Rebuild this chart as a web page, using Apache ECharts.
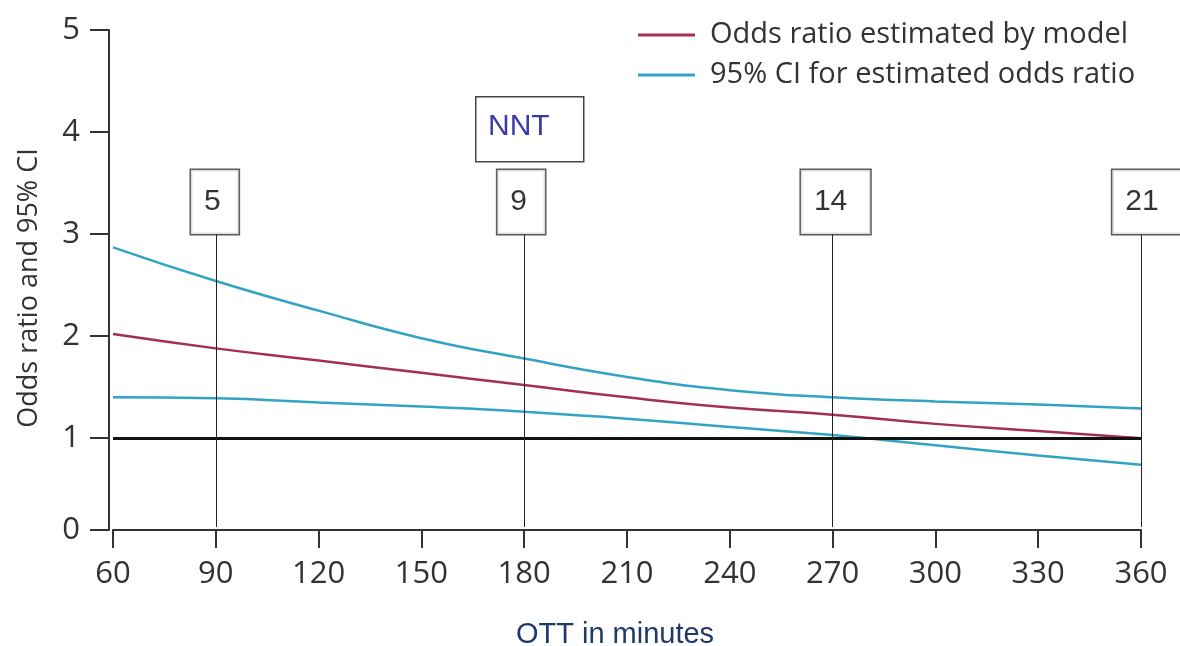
<!DOCTYPE html>
<html>
<head>
<meta charset="utf-8">
<script src="https://cdn.jsdelivr.net/npm/echarts@6/dist/echarts.min.js"></script>
<style>
html,body{margin:0;padding:0;background:#fff;}
#chart{width:1180px;height:646px;}
</style>
</head>
<body>
<div id="chart"></div>
<script>
// ---- data ----
const ottMinutes = [60, 90, 120, 150, 180, 210, 240, 270, 300, 330, 360];
const oddsRatio  = [2.02, 1.88, 1.76, 1.64, 1.52, 1.40, 1.30, 1.23, 1.14, 1.07, 1.00];
const ciUpper    = [2.87, 2.54, 2.25, 1.98, 1.78, 1.60, 1.47, 1.40, 1.36, 1.33, 1.29];
const ciLower    = [1.40, 1.39, 1.35, 1.31, 1.26, 1.19, 1.11, 1.03, 0.93, 0.83, 0.74];
const nntMinutes = [90, 180, 270, 360];
const nntValues  = [5, 9, 14, 21];
const yTickValues = [0.1, 1, 2, 3, 4, 5];
const yTickLabels = ['0', '1', '2', '3', '4', '5'];
const seriesNames = ['Odds ratio estimated by model', '95% CI for estimated odds ratio'];

const RED = '#a32f58';
const CYAN = '#33a3c4';
const LABEL_FONT = '"Open Sans", "DejaVu Sans", sans-serif';
const ARIAL = 'Arial, "Liberation Sans", sans-serif';

const pairs = arr => ottMinutes.map((x, i) => [x, arr[i]]);

const boxLabelBase = {
  show: true, position: 'top', distance: 0,
  fontFamily: ARIAL, fontSize: 30, lineHeight: 30, color: '#000',
  backgroundColor: '#fff', borderColor: '#333', borderWidth: 1.5
};
const boxStyle = [
  {padding: [17, 18, 17, 13], offset: [-1, 0]},
  {padding: [17, 18, 17, 13], offset: [-3, 0]},
  {padding: [17, 23, 17, 13], offset: [3, 0]},
  {padding: [17, 23, 17, 13], offset: [6, 0]}
];

const chart = echarts.init(document.getElementById('chart'), null, {renderer: 'canvas'});
chart.setOption({
  animation: false,
  backgroundColor: '#ffffff',
  grid: {left: 113, right: 39, top: 30, bottom: 116, containLabel: false, outerBoundsMode: 'none'},
  legend: {
    data: seriesNames,
    orient: 'vertical',
    left: 633,
    top: 15,
    icon: 'rect',
    itemWidth: 57,
    itemHeight: 3,
    itemGap: 10,
    textStyle: {fontFamily: LABEL_FONT, fontSize: 29, color: '#333', padding: [0, 0, 0, 10], lineHeight: 30}
  },
  xAxis: {
    type: 'value',
    min: 60, max: 360, interval: 30,
    name: 'OTT in minutes',
    nameLocation: 'middle',
    nameGap: 90,
    nameTextStyle: {fontFamily: ARIAL, fontSize: 29, color: '#1f3a6a', padding: [0, 24, 0, 0]},
    axisLine: {show: true, lineStyle: {color: '#333', width: 2}},
    axisTick: {show: true, length: 18, lineStyle: {color: '#333', width: 2}},
    axisLabel: {fontFamily: LABEL_FONT, fontSize: 31, color: '#333', margin: 29},
    splitLine: {show: false}
  },
  yAxis: {
    type: 'value',
    min: 0.1, max: 5,
    offset: 4,
    name: 'Odds ratio and 95% CI',
    nameLocation: 'middle',
    nameGap: 66,
    nameTextStyle: {fontFamily: LABEL_FONT, fontSize: 27, color: '#333', padding: [0, 16, 0, 0]},
    axisLine: {show: true, lineStyle: {color: '#333', width: 2}},
    axisTick: {show: true, length: 19, customValues: yTickValues, lineStyle: {color: '#333', width: 2}},
    axisLabel: {
      customValues: yTickValues,
      formatter: v => yTickLabels[yTickValues.indexOf(v)] ?? String(Math.round(v)),
      fontFamily: LABEL_FONT, fontSize: 31, color: '#333', margin: 29
    },
    splitLine: {show: false}
  },
  graphic: [
    {type: 'rect', left: 475, top: 96, shape: {width: 108, height: 65},
     style: {fill: '#fff', stroke: '#444', lineWidth: 1.5}, z: 10},
    {type: 'text', left: 488, top: 112,
     style: {text: 'NNT', fontFamily: ARIAL, fontSize: 30, fill: '#3b3ba8'}, z: 11}
  ],
  series: [
    {
      name: seriesNames[1], type: 'line', data: pairs(ciUpper), smooth: true,
      showSymbol: false, symbol: 'none', lineStyle: {color: CYAN, width: 2.5}, itemStyle: {color: CYAN}, z: 3
    },
    {
      name: seriesNames[1], type: 'line', data: pairs(ciLower), smooth: true,
      showSymbol: false, symbol: 'none', lineStyle: {color: CYAN, width: 2.5}, itemStyle: {color: CYAN}, z: 3
    },
    {
      name: seriesNames[0], type: 'line', data: pairs(oddsRatio), smooth: true,
      showSymbol: false, symbol: 'none', lineStyle: {color: RED, width: 2.5}, itemStyle: {color: RED}, z: 4,
      markLine: {
        silent: true, symbol: ['none', 'none'], label: {show: false},
        lineStyle: {color: '#111', width: 3, type: 'solid'},
        data: [{yAxis: 1}]
      }
    },
    {
      name: 'NNT', type: 'scatter', symbolSize: 0, z: 6,
      data: nntMinutes.map((x, i) => ({
        value: [x, 3.0, nntValues[i]],
        label: Object.assign({}, boxLabelBase, boxStyle[i], {formatter: String(nntValues[i])})
      })),
      label: Object.assign({}, boxLabelBase),
      markLine: {
        silent: true, symbol: ['none', 'none'], label: {show: false},
        lineStyle: {color: '#222', width: 1, type: 'solid'},
        data: nntMinutes.map(x => [{coord: [x, 0.13]}, {coord: [x, 3.0]}])
      }
    }
  ]
});
</script>
</body>
</html>
